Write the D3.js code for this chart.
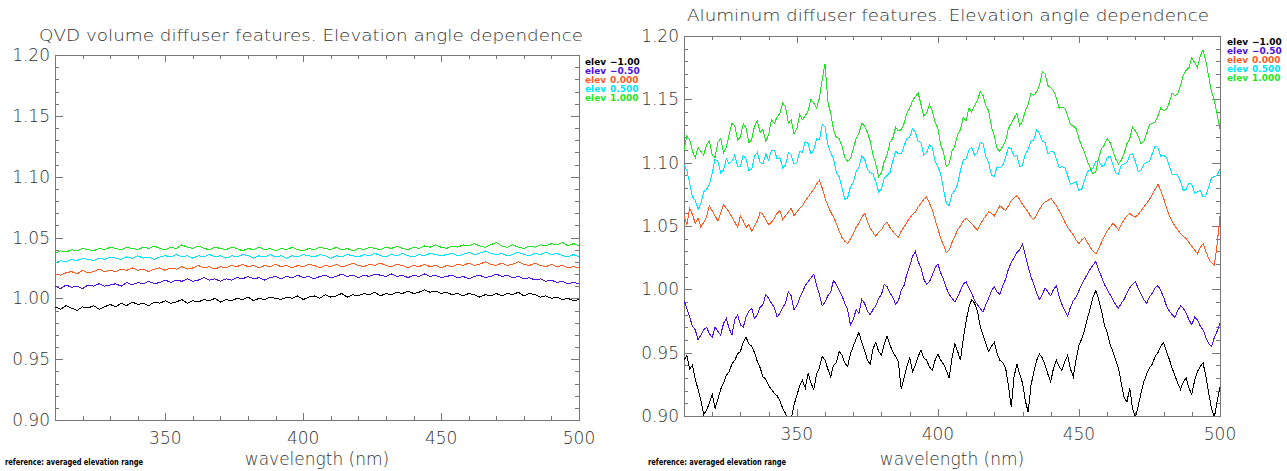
<!DOCTYPE html>
<html>
<head>
<meta charset="utf-8">
<script src="https://d3js.org/d3.v7.min.js"></script>
<style>
body { margin: 0; background: #fff; }
text { font-family: "DejaVu Sans", sans-serif; font-weight: 200; fill: #333; }
.axis line, .frame { stroke: #777; stroke-width: 1; fill: none; shape-rendering: crispEdges; }
.leg text, .note { font-weight: bold; }
.curve { fill: none; stroke-width: 1; shape-rendering: crispEdges; }
</style>
</head>
<body>
<svg id="chart" width="1287" height="471"></svg>
<script>
// QVD panel sampled every 2 nm, aluminum panel every 1 nm
var wlQvd = d3.range(310, 501, 2);
var wlAl = d3.range(310, 501, 1);

var elevLabels = ["\u22121.00", "\u22120.50", "0.000", "0.500", "1.000"];
var elevColors = ["#000000", "#4a10e0", "#ff5a1e", "#00e5ff", "#1ee61e"];
var yTicks = [0.90, 0.95, 1.00, 1.05, 1.10, 1.15, 1.20];
var xTicks = [350, 400, 450, 500];

// QVD volume diffuser, one array per elevation
var qvdM100 = [0.993,0.991,0.994,0.992,0.990,0.993,0.992,0.994,0.991,0.993,0.995,
  0.993,0.996,0.994,0.997,0.995,0.996,0.994,0.997,0.996,0.998,
  0.996,0.997,0.999,0.996,0.998,0.997,0.999,0.998,1.000,0.997,
  0.999,0.998,1.000,0.999,1.001,0.998,1.000,0.999,1.001,1.000,
  0.999,1.001,1.000,1.002,0.999,1.001,1.002,1.000,1.003,1.001,
  1.002,1.004,1.001,1.003,1.002,1.004,1.003,1.005,1.002,1.004,
  1.003,1.005,1.004,1.006,1.004,1.005,1.007,1.005,1.006,1.004,
  1.005,1.003,1.004,1.002,1.004,1.003,1.001,1.003,1.002,1.004,
  1.002,1.004,1.003,1.005,1.002,1.004,1.003,1.001,1.002,1.000,
  1.001,0.999,1.000,0.998,0.999];
var qvdM050 = [1.010,1.008,1.011,1.009,1.010,1.008,1.011,1.010,1.012,1.010,1.011,
  1.012,1.010,1.013,1.011,1.013,1.012,1.014,1.012,1.013,1.015,
  1.013,1.015,1.014,1.016,1.014,1.015,1.017,1.015,1.016,1.014,
  1.016,1.015,1.017,1.016,1.018,1.016,1.017,1.015,1.017,1.018,
  1.016,1.018,1.017,1.019,1.017,1.018,1.016,1.018,1.019,1.017,
  1.018,1.020,1.018,1.019,1.017,1.019,1.018,1.020,1.019,1.018,
  1.020,1.018,1.019,1.017,1.019,1.018,1.020,1.018,1.019,1.017,
  1.018,1.019,1.017,1.018,1.016,1.018,1.019,1.017,1.018,1.020,
  1.018,1.019,1.017,1.018,1.016,1.017,1.015,1.016,1.014,1.015,
  1.013,1.014,1.012,1.013,1.012];
var qvdP000 = [1.020,1.019,1.021,1.022,1.020,1.023,1.021,1.022,1.024,1.022,1.023,
  1.022,1.024,1.023,1.025,1.023,1.024,1.022,1.024,1.025,1.023,
  1.025,1.024,1.026,1.024,1.025,1.027,1.025,1.026,1.024,1.026,
  1.025,1.027,1.026,1.028,1.026,1.027,1.025,1.027,1.026,1.028,
  1.026,1.027,1.025,1.027,1.026,1.028,1.027,1.025,1.027,1.026,
  1.028,1.026,1.027,1.029,1.027,1.026,1.028,1.027,1.029,1.027,
  1.026,1.028,1.027,1.025,1.027,1.026,1.028,1.026,1.027,1.025,
  1.027,1.026,1.028,1.027,1.029,1.027,1.028,1.030,1.028,1.027,
  1.029,1.027,1.028,1.030,1.028,1.027,1.029,1.027,1.026,1.028,
  1.026,1.027,1.025,1.026,1.025];
var qvdP050 = [1.029,1.031,1.030,1.032,1.031,1.033,1.032,1.031,1.033,1.032,1.034,
  1.033,1.032,1.034,1.033,1.035,1.033,1.034,1.032,1.034,1.035,
  1.034,1.036,1.034,1.035,1.033,1.035,1.034,1.036,1.034,1.035,
  1.033,1.035,1.034,1.036,1.035,1.033,1.035,1.034,1.036,1.034,
  1.035,1.033,1.035,1.034,1.036,1.035,1.034,1.036,1.035,1.033,
  1.035,1.034,1.036,1.035,1.034,1.036,1.035,1.037,1.035,1.034,
  1.036,1.035,1.037,1.035,1.034,1.036,1.035,1.037,1.036,1.035,
  1.036,1.037,1.035,1.036,1.038,1.036,1.037,1.039,1.037,1.036,
  1.037,1.035,1.036,1.038,1.036,1.035,1.037,1.036,1.038,1.036,
  1.037,1.035,1.034,1.036,1.034];
var qvdP100 = [1.037,1.039,1.038,1.040,1.039,1.041,1.040,1.039,1.041,1.040,1.042,
  1.041,1.040,1.042,1.041,1.040,1.042,1.041,1.043,1.041,1.040,
  1.042,1.041,1.044,1.042,1.041,1.043,1.041,1.040,1.042,1.041,
  1.040,1.042,1.041,1.039,1.041,1.040,1.042,1.040,1.041,1.039,
  1.041,1.040,1.042,1.040,1.039,1.041,1.040,1.042,1.041,1.040,
  1.042,1.040,1.041,1.039,1.041,1.040,1.042,1.041,1.040,1.042,
  1.041,1.043,1.041,1.040,1.042,1.041,1.043,1.042,1.044,1.042,
  1.041,1.043,1.042,1.044,1.043,1.045,1.043,1.042,1.044,1.046,
  1.043,1.042,1.044,1.042,1.041,1.043,1.042,1.044,1.043,1.045,
  1.044,1.046,1.043,1.045,1.043];

// Aluminum diffuser, one array per elevation (1 nm steps)
var alM100 = [0.944,0.948,0.937,0.940,0.929,0.921,0.912,0.901,0.905,0.910,0.917,0.906,0.913,0.921,0.926,0.932,0.935,0.941,0.944,0.949,0.951,
  0.958,0.962,0.957,0.955,0.950,0.943,0.938,0.931,0.929,0.924,0.921,0.918,0.916,0.912,0.906,0.902,0.893,0.897,0.909,0.916,
  0.924,0.928,0.922,0.934,0.926,0.921,0.933,0.938,0.947,0.944,0.937,0.931,0.940,0.942,0.951,0.948,0.942,0.939,0.949,0.955,
  0.961,0.966,0.958,0.952,0.944,0.941,0.953,0.958,0.951,0.948,0.957,0.963,0.956,0.951,0.947,0.943,0.921,0.930,0.939,0.946,
  0.935,0.940,0.947,0.952,0.946,0.944,0.939,0.936,0.944,0.949,0.944,0.941,0.936,0.930,0.946,0.957,0.951,0.944,0.961,0.975,
  0.986,0.992,0.989,0.983,0.971,0.964,0.957,0.951,0.955,0.958,0.949,0.944,0.942,0.938,0.924,0.907,0.931,0.941,0.933,0.926,
  0.912,0.903,0.924,0.935,0.944,0.949,0.946,0.940,0.933,0.927,0.938,0.944,0.939,0.936,0.943,0.948,0.937,0.931,0.945,0.956,
  0.961,0.968,0.977,0.985,0.994,0.999,0.992,0.983,0.972,0.966,0.957,0.951,0.944,0.938,0.926,0.915,0.911,0.922,0.906,0.899,
  0.908,0.918,0.927,0.933,0.938,0.941,0.947,0.950,0.955,0.958,0.951,0.945,0.938,0.932,0.926,0.921,0.927,0.930,0.922,0.917,
  0.928,0.935,0.939,0.942,0.931,0.918,0.906,0.899,0.912,0.923];
var alM050 = [0.991,0.985,0.978,0.971,0.968,0.960,0.964,0.968,0.970,0.965,0.962,0.970,0.967,0.964,0.973,0.977,0.969,0.964,0.976,0.980,0.972,
  0.970,0.978,0.983,0.985,0.977,0.980,0.986,0.988,0.996,0.993,0.989,0.986,0.978,0.981,0.986,0.989,0.998,0.995,0.984,0.987,
  0.993,0.998,1.003,1.006,1.009,1.012,1.003,0.996,0.987,0.990,0.995,0.998,1.007,1.004,0.999,0.995,0.989,0.984,0.972,0.976,
  0.984,0.981,0.992,0.989,0.983,0.980,0.984,0.987,0.993,0.996,1.004,1.002,0.997,0.994,0.988,0.991,0.999,1.003,1.012,1.018,
  1.026,1.030,1.022,1.017,1.008,1.004,1.006,1.011,1.017,1.020,1.013,1.008,1.001,0.996,0.993,0.990,0.994,0.999,1.004,1.006,
  1.001,0.997,0.991,0.988,0.985,0.982,0.988,0.993,0.999,1.002,0.998,0.996,1.003,1.008,1.016,1.021,1.025,1.029,1.031,1.036,
  1.027,1.018,1.010,1.004,0.997,0.992,0.996,1.001,0.998,0.995,1.000,1.003,0.994,0.988,0.983,0.979,0.986,0.991,0.994,0.999,
  1.004,1.008,1.012,1.016,1.019,1.022,1.015,1.010,1.004,1.000,0.996,0.992,0.988,0.985,0.989,0.992,0.997,1.001,1.004,1.006,
  1.001,0.996,0.992,0.989,0.994,0.997,1.001,1.003,0.999,0.994,0.987,0.983,0.980,0.978,0.983,0.987,0.985,0.981,0.976,0.972,
  0.978,0.976,0.971,0.968,0.962,0.957,0.955,0.962,0.967,0.973];
var alP000 = [1.058,1.051,1.064,1.059,1.052,1.056,1.049,1.053,1.057,1.066,1.062,1.058,1.054,1.060,1.067,1.064,1.061,1.057,1.053,1.049,1.058,
  1.054,1.049,1.051,1.046,1.050,1.054,1.061,1.059,1.055,1.051,1.053,1.056,1.060,1.062,1.055,1.058,1.061,1.064,1.058,1.061,
  1.064,1.066,1.070,1.073,1.076,1.079,1.083,1.086,1.080,1.072,1.066,1.061,1.057,1.052,1.046,1.041,1.038,1.036,1.040,1.044,
  1.049,1.052,1.057,1.060,1.054,1.048,1.045,1.042,1.045,1.047,1.051,1.053,1.049,1.046,1.043,1.041,1.046,1.049,1.053,1.056,
  1.059,1.061,1.065,1.068,1.071,1.073,1.068,1.063,1.055,1.048,1.040,1.035,1.029,1.031,1.037,1.042,1.047,1.050,1.054,1.056,
  1.054,1.052,1.049,1.047,1.051,1.055,1.058,1.061,1.060,1.058,1.062,1.066,1.064,1.062,1.066,1.070,1.072,1.074,1.071,1.067,
  1.064,1.061,1.057,1.055,1.059,1.063,1.067,1.069,1.070,1.072,1.069,1.066,1.062,1.058,1.053,1.049,1.046,1.043,1.039,1.036,
  1.039,1.041,1.037,1.033,1.030,1.028,1.032,1.037,1.042,1.046,1.049,1.052,1.050,1.047,1.051,1.055,1.058,1.060,1.058,1.057,
  1.059,1.062,1.065,1.068,1.071,1.075,1.079,1.083,1.078,1.072,1.065,1.058,1.054,1.050,1.047,1.044,1.042,1.040,1.037,1.034,
  1.031,1.028,1.033,1.036,1.030,1.024,1.021,1.019,1.036,1.058];
var alP050 = [1.098,1.094,1.084,1.073,1.070,1.063,1.068,1.077,1.079,1.083,1.092,1.103,1.101,1.092,1.094,1.103,1.099,1.101,1.106,1.097,1.097,
  1.106,1.103,1.094,1.095,1.105,1.108,1.100,1.099,1.107,1.102,1.110,1.110,1.103,1.104,1.096,1.098,1.108,1.106,1.099,1.100,
  1.109,1.108,1.117,1.115,1.107,1.110,1.119,1.118,1.130,1.128,1.114,1.108,1.103,1.092,1.089,1.080,1.071,1.072,1.081,1.084,
  1.093,1.096,1.105,1.103,1.095,1.092,1.091,1.085,1.077,1.079,1.088,1.090,1.092,1.101,1.109,1.107,1.107,1.113,1.119,1.120,
  1.127,1.124,1.117,1.116,1.106,1.108,1.114,1.112,1.101,1.097,1.091,1.079,1.068,1.066,1.075,1.078,1.083,1.094,1.102,1.103,
  1.110,1.112,1.106,1.108,1.116,1.115,1.105,1.100,1.090,1.089,1.097,1.096,1.098,1.104,1.112,1.111,1.105,1.106,1.097,1.098,
  1.107,1.110,1.117,1.118,1.126,1.123,1.117,1.116,1.107,1.109,1.109,1.103,1.096,1.097,1.096,1.090,1.083,1.084,1.085,1.078,
  1.079,1.086,1.093,1.094,1.096,1.101,1.102,1.097,1.098,1.104,1.105,1.099,1.092,1.091,1.098,1.099,1.100,1.106,1.107,1.101,
  1.093,1.094,1.099,1.100,1.101,1.107,1.113,1.112,1.105,1.106,1.104,1.098,1.091,1.091,1.090,1.085,1.078,1.079,1.084,1.083,
  1.076,1.077,1.078,1.073,1.074,1.081,1.088,1.089,1.090,1.095];
var alP100 = [1.110,1.121,1.118,1.109,1.104,1.112,1.109,1.106,1.114,1.117,1.106,1.104,1.116,1.119,1.108,1.112,1.122,1.131,1.129,1.118,1.120,
  1.131,1.127,1.116,1.118,1.129,1.133,1.124,1.126,1.117,1.122,1.134,1.131,1.136,1.139,1.147,1.144,1.131,1.134,1.123,1.127,
  1.138,1.134,1.137,1.141,1.150,1.147,1.143,1.151,1.166,1.178,1.148,1.139,1.126,1.120,1.119,1.113,1.104,1.101,1.103,1.111,
  1.119,1.123,1.131,1.129,1.124,1.117,1.106,1.099,1.089,1.092,1.101,1.106,1.116,1.119,1.128,1.125,1.126,1.131,1.139,1.143,
  1.149,1.152,1.155,1.146,1.137,1.139,1.146,1.141,1.132,1.127,1.114,1.108,1.097,1.099,1.109,1.113,1.122,1.126,1.136,1.133,
  1.143,1.140,1.145,1.149,1.156,1.153,1.145,1.141,1.128,1.121,1.111,1.109,1.113,1.117,1.127,1.131,1.135,1.139,1.129,1.133,
  1.141,1.146,1.155,1.153,1.156,1.161,1.172,1.170,1.161,1.159,1.157,1.151,1.143,1.144,1.143,1.137,1.130,1.129,1.127,1.119,
  1.113,1.108,1.101,1.096,1.091,1.093,1.104,1.111,1.114,1.119,1.116,1.110,1.103,1.099,1.102,1.107,1.115,1.119,1.128,1.125,
  1.121,1.115,1.117,1.123,1.130,1.131,1.132,1.137,1.143,1.141,1.142,1.147,1.155,1.153,1.154,1.161,1.169,1.173,1.175,1.183,
  1.179,1.175,1.184,1.189,1.180,1.168,1.156,1.149,1.138,1.127];

var svg = d3.select("#chart");

function drawPanel(p) {
  var x = d3.scaleLinear().domain([310, 500]).range([p.left, p.right]);
  var y = d3.scaleLinear().domain([0.90, 1.20]).range([p.bottom, p.top]);
  var g = svg.append("g");

  var clipId = "clip" + p.id;
  g.append("clipPath").attr("id", clipId).append("rect")
    .attr("x", p.left).attr("y", p.top)
    .attr("width", p.right - p.left).attr("height", p.bottom - p.top);

  // IDL style axes, ticks pointing in on all four sides
  var xMinor = d3.range(320, 500, 10);
  [[p.bottom, d3.axisBottom], [p.top, d3.axisTop]].forEach(function (s) {
    g.append("g").attr("class", "axis").attr("transform", "translate(0," + s[0] + ")")
      .call(s[1](x).tickValues(xMinor).tickSize(-4).tickFormat(""))
      .call(a => a.select(".domain").remove());
    g.append("g").attr("class", "axis").attr("transform", "translate(0," + s[0] + ")")
      .call(s[1](x).tickValues(xTicks).tickSize(-7).tickFormat(""))
      .call(a => a.select(".domain").remove());
  });

  var yMinor = d3.range(91, 120).map(v => v / 100);
  [[p.left, d3.axisLeft], [p.right, d3.axisRight]].forEach(function (s) {
    g.append("g").attr("class", "axis").attr("transform", "translate(" + s[0] + ",0)")
      .call(s[1](y).tickValues(yMinor).tickSize(-4).tickFormat(""))
      .call(a => a.select(".domain").remove());
    g.append("g").attr("class", "axis").attr("transform", "translate(" + s[0] + ",0)")
      .call(s[1](y).tickValues(yTicks).tickSize(-8).tickFormat(""))
      .call(a => a.select(".domain").remove());
  });

  g.append("rect").attr("class", "frame")
    .attr("x", p.left).attr("y", p.top)
    .attr("width", p.right - p.left).attr("height", p.bottom - p.top);

  // tick labels
  g.selectAll(".ylab").data(yTicks).join("text")
    .attr("x", p.left - 5).attr("y", d => y(d) + 6)
    .attr("text-anchor", "end").attr("font-size", 17)
    .text(d => d3.format(".2f")(d));
  g.selectAll(".xlab").data(xTicks).join("text")
    .attr("x", d => x(d)).attr("y", p.bottom + 24)
    .attr("text-anchor", "middle").attr("font-size", 17)
    .text(d => d);

  g.append("text").attr("x", (p.left + p.right) / 2).attr("y", 465)
    .attr("text-anchor", "middle").attr("font-size", 17)
    .text("wavelength (nm)");
  g.append("text").attr("x", p.titleX).attr("y", p.titleY)
    .attr("text-anchor", "middle").attr("font-size", 16)
    .attr("textLength", p.titleLen).attr("lengthAdjust", "spacingAndGlyphs")
    .text(p.title);
  g.append("text").attr("class", "note").attr("x", p.noteX).attr("y", 465)
    .attr("font-size", 8.5).style("fill", "#000")
    .attr("textLength", 138).attr("lengthAdjust", "spacingAndGlyphs")
    .text("reference: averaged elevation range");

  var line = d3.line().x((d, i) => x(p.wl[i])).y(d => y(d));
  g.append("g").attr("clip-path", "url(#" + clipId + ")")
    .selectAll("path").data(p.series).join("path")
    .attr("class", "curve")
    .attr("stroke", (d, i) => elevColors[i])
    .attr("d", line);

  // legend
  var lg = g.append("g").attr("class", "leg");
  elevLabels.forEach(function (lab, i) {
    lg.append("text").attr("x", p.legX).attr("y", p.legY + i * 9)
      .attr("font-size", 9).style("fill", elevColors[i]).text("elev");
    lg.append("text").attr("x", p.legX + 25).attr("y", p.legY + i * 9)
      .attr("font-size", 9).style("fill", elevColors[i]).text(lab);
  });
}

drawPanel({
  id: "qvd", left: 55, right: 579, top: 55, bottom: 420, wl: wlQvd,
  title: "QVD volume diffuser features. Elevation angle dependence",
  titleX: 311, titleY: 41, titleLen: 544,
  legX: 585, legY: 65, noteX: 5,
  series: [qvdM100, qvdM050, qvdP000, qvdP050, qvdP100]
});
drawPanel({
  id: "al", left: 684, right: 1220, top: 36, bottom: 416, wl: wlAl,
  title: "Aluminum diffuser features. Elevation angle dependence",
  titleX: 948, titleY: 21, titleLen: 522,
  legX: 1227, legY: 45, noteX: 648,
  series: [alM100, alM050, alP000, alP050, alP100]
});
</script>
</body>
</html>
